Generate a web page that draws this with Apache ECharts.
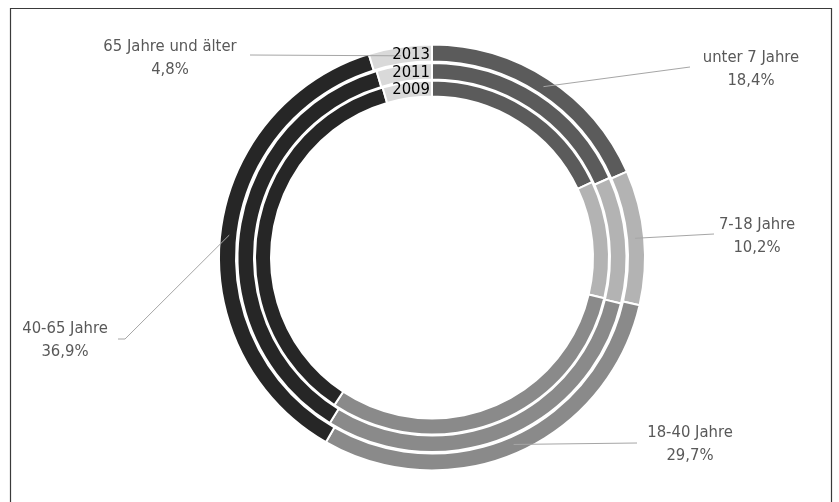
<!DOCTYPE html>
<html>
<head>
<meta charset="utf-8">
<script src="https://cdn.jsdelivr.net/npm/echarts@6/dist/echarts.min.js"></script>
<style>
  html, body { margin: 0; padding: 0; background: #ffffff; }
  #chart { width: 839px; height: 502px; }
</style>
</head>
<body>
<div id="chart"></div>
<script>
// Altersstruktur: Anteile je Altersgruppe, ein Ring je Jahr (innen 2009, außen 2013)
const categories = ['unter 7 Jahre', '7-18 Jahre', '18-40 Jahre', '40-65 Jahre', '65 Jahre und älter'];
const years = ['2009', '2011', '2013'];
const share2009 = [18.0, 10.7, 30.6, 36.2, 4.5];
const share2011 = [18.3, 10.5, 30.0, 36.6, 4.6];
const share2013 = [18.4, 10.2, 29.7, 36.9, 4.8];
const sharesByYear = [share2009, share2011, share2013];

const sliceColors = ['#5b5b5b', '#b3b3b3', '#8a8a8a', '#262626', '#d9d9d9'];
const FONT = "'Liberation Sans Narrow', 'DejaVu Sans Condensed', 'Noto Sans', sans-serif";

const CX = 432, CY = 257.5;
// ring radii (inner, outer) per year, innermost first
const ringRadii = [[161, 177], [178, 194.5], [196, 213]];
const LEADER_R = 204;

// where each outer-ring label block sits, and the bend/end of its leader line
const labelPlacement = [
  { x: 751, y: 69,  path: [[690, 67]] },
  { x: 757, y: 236, path: [[714, 234]] },
  { x: 690, y: 444, path: [[637, 443]] },
  { x: 65,  y: 340, path: [[125, 339], [118, 339]] },
  { x: 170, y: 58,  path: [[250, 55]] }
];

const fmt = v => v.toFixed(1).replace('.', ',') + '%';

const baseRing = (vals, i) => ({
  type: 'pie',
  name: years[i],
  center: [CX, CY],
  radius: ringRadii[i],
  startAngle: 90,
  clockwise: true,
  avoidLabelOverlap: false,
  silent: true,
  animation: false,
  z: 2,
  itemStyle: { borderColor: '#ffffff', borderWidth: 2 },
  label: { show: false },
  labelLine: { show: false },
  data: categories.map((c, k) => ({
    name: c,
    value: vals[k],
    itemStyle: { color: sliceColors[k] }
  }))
});

const series = sharesByYear.map(baseRing);

// transparent copy of the outer ring on top, carrying the category labels
const outerIdx = sharesByYear.length - 1;
series.push({
  type: 'pie',
  name: 'labels',
  center: [CX, CY],
  radius: ringRadii[outerIdx],
  startAngle: 90,
  clockwise: true,
  avoidLabelOverlap: false,
  silent: true,
  animation: false,
  z: 5,
  itemStyle: { color: 'rgba(0,0,0,0)', borderWidth: 0 },
  label: {
    show: true,
    position: 'outside',
    formatter: p => p.name + '\n' + fmt(p.value),
    color: '#595959',
    fontFamily: FONT,
    fontSize: 16.5,
    lineHeight: 23,
    align: 'center'
  },
  labelLine: {
    show: true,
    length: 10,
    length2: 10,
    lineStyle: { color: '#a6a6a6', width: 1 }
  },
  labelLayout: function (params) {
    const spec = labelPlacement[params.dataIndex];
    const pts = params.labelLinePoints;
    const out = { x: spec.x, y: spec.y, align: 'center', verticalAlign: 'middle' };
    if (pts && pts.length) {
      const dx = pts[0][0] - CX, dy = pts[0][1] - CY;
      const len = Math.sqrt(dx * dx + dy * dy) || 1;
      const start = [CX + dx / len * LEADER_R, CY + dy / len * LEADER_R];
      out.labelLinePoints = [start].concat(spec.path);
    }
    return out;
  },
  data: categories.map((c, k) => ({ name: c, value: share2013[k] }))
});

// year captions sit at the start of each ring
const yearCaptions = years.map((y, i) => ({
  type: 'text',
  z: 100,
  x: CX - 2,
  y: CY - (ringRadii[i][0] + ringRadii[i][1]) / 2 + 1.5,
  style: {
    text: y,
    fill: '#000000',
    font: '16.5px ' + FONT,
    textAlign: 'right',
    textVerticalAlign: 'middle'
  }
}));

const chart = echarts.init(document.getElementById('chart'), null, { renderer: 'canvas' });
chart.setOption({
  backgroundColor: '#ffffff',
  animation: false,
  graphic: [
    {
      type: 'rect',
      z: 0,
      shape: { x: 10.5, y: 8.5, width: 821, height: 500 },
      style: { fill: 'none', stroke: '#3a3a3a', lineWidth: 1.2 }
    }
  ].concat(yearCaptions),
  series: series
});
</script>
</body>
</html>
